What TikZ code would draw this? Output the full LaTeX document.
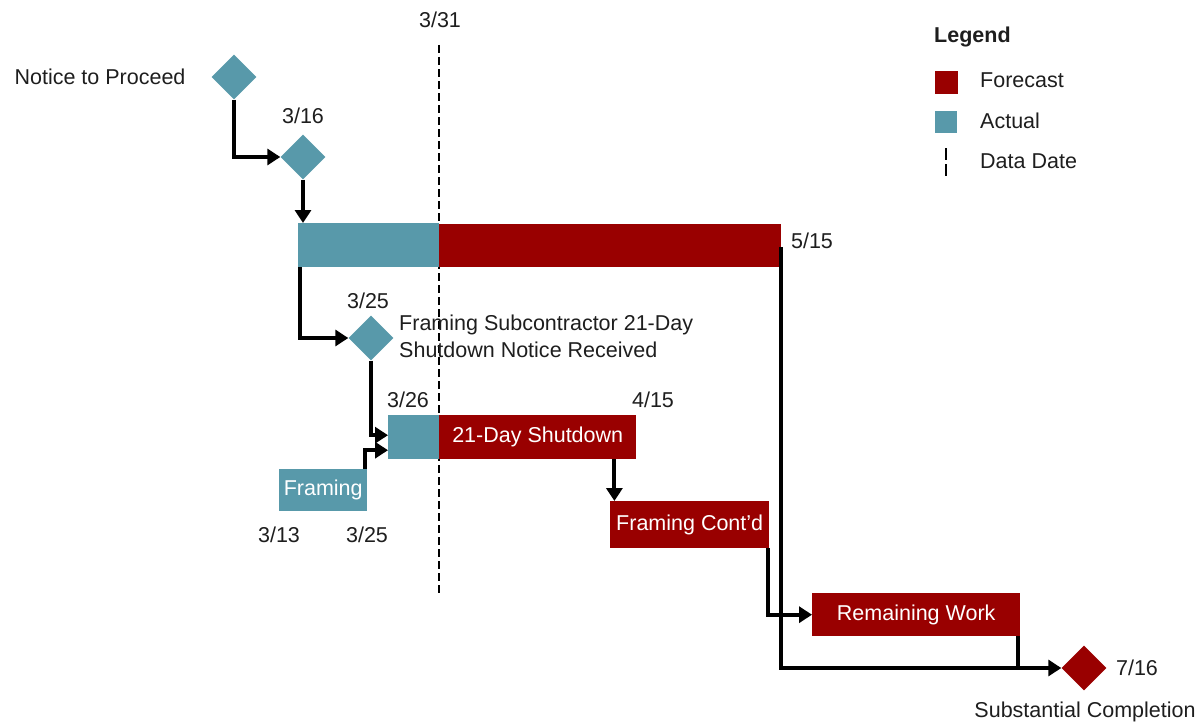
\documentclass[tikz,border=0pt]{standalone}
\usepackage{fontspec}
\setmainfont{Liberation Sans}
\usetikzlibrary{shapes.geometric,arrows.meta}
\definecolor{tealc}{RGB}{88,153,170}
\definecolor{fred}{RGB}{153,0,0}
\definecolor{ink}{RGB}{30,30,30}
\begin{document}
\begin{tikzpicture}[x=1pt,y=-1pt,
 every node/.style={font=\fontsize{21.5}{27}\selectfont, text=ink},
 ms/.style={diamond, fill=#1, inner sep=0pt, minimum width=45pt, minimum height=45pt},
 bar/.style={rectangle, fill=#1, inner sep=0pt, anchor=north west, text=white},
 lbl/.style={inner sep=0pt},
 arr/.style={line width=4pt, -{Triangle[length=13pt,width=16pt]}},
 ln/.style={line width=4pt},
 ddate/.style={dash pattern=on 8pt off 4pt, line width=1.3pt}]
\useasboundingbox (0,0) rectangle (1201,725);
% data date line
\coordinate (dtop) at (439,45);
\coordinate (dbot) at (439,595);
\draw[ddate] (dtop) -- (dbot);
\node[lbl] (l331) at (440,20) {3/31};
% milestones
\node[ms=tealc] (ntp) at (234,77) {};
\node[lbl] (lntp) at (100,77) {Notice to Proceed};
\node[ms=tealc] (d316) at (303,157) {};
\node[lbl] (l316) at (303,116) {3/16};
% long bar
\node[bar=tealc, minimum width=141pt, minimum height=44pt] (barA) at (298,223) {};
\node[bar=fred, minimum width=342pt, minimum height=43pt] (barB) at (439,224) {};
\node[lbl] (l515) at (812,241) {5/15};
% notice milestone
\node[ms=tealc] (d325) at (371,338) {};
\node[lbl] (l325a) at (368,301) {3/25};
\node[lbl, anchor=west, align=left] (lfs) at (399,336) {Framing Subcontractor 21-Day\\Shutdown Notice Received};
% shutdown
\node[bar=tealc, minimum width=51pt, minimum height=44pt] (sdA) at (388,415) {};
\node[bar=fred, minimum width=197pt, minimum height=44pt] (sd) at (439,415) {21-Day Shutdown};
\node[lbl] (l326) at (408,400) {3/26};
\node[lbl] (l415) at (653,400) {4/15};
% framing
\node[bar=tealc, minimum width=88pt, minimum height=42pt] (fr) at (279,469) {Framing};
\node[lbl] (l313) at (279,535) {3/13};
\node[lbl] (l325b) at (367,535) {3/25};
% framing cont'd
\node[bar=fred, minimum width=159pt, minimum height=47pt] (fc) at (610,501) {Framing Cont'd};
% remaining work
\node[bar=fred, minimum width=208pt, minimum height=43pt] (rw) at (812,593) {Remaining Work};
% completion
\node[ms=fred] (sc) at (1084,668) {};
\node[lbl] (l716) at (1137,668) {7/16};
\node[lbl] (lsc) at (1085,712) {Substantial Completion};
% connectors
\draw[arr] (ntp.south) |- (d316.west);
\draw[arr] (d316.south) -- (d316.south |- barA.north);
\draw[arr] ([xshift=2pt]barA.south west) |- (d325.west);
\draw[arr] (d325.south) |- ([yshift=2pt]sdA.west);
\draw[arr] ([xshift=-2pt]fr.north east) |- ([yshift=-13pt]sdA.west);
\draw[arr] ([xshift=-22pt]sd.south east) -- ([xshift=-22pt]sd.south east |- fc.north);
\draw[arr] ([xshift=-1pt]fc.south east) |- (rw.west);
\draw[arr] ([yshift=20pt]barB.south east) |- (sc.west);
\draw[ln] ([xshift=-2pt]rw.south east) -- ([xshift=-2pt]rw.south east |- sc.west);
% legend
\node[lbl, anchor=west, font=\fontsize{21.5}{27}\selectfont\bfseries] (lg) at (934,37) {Legend};
\node[rectangle, fill=fred, inner sep=0pt, minimum size=23pt] (kf) at (946,82) {};
\node[lbl, anchor=west] (kft) at (980,80) {Forecast};
\node[rectangle, fill=tealc, inner sep=0pt, minimum size=22pt] (ka) at (946,122) {};
\node[lbl, anchor=west] (kat) at (980,121) {Actual};
\coordinate (kd1) at (946,148);
\coordinate (kd2) at (946,176);
\draw[ddate, dash pattern=on 12pt off 4pt] (kd1) -- (kd2);
\node[lbl, anchor=west] (kdt) at (980,161) {Data Date};
\end{tikzpicture}
\end{document}
